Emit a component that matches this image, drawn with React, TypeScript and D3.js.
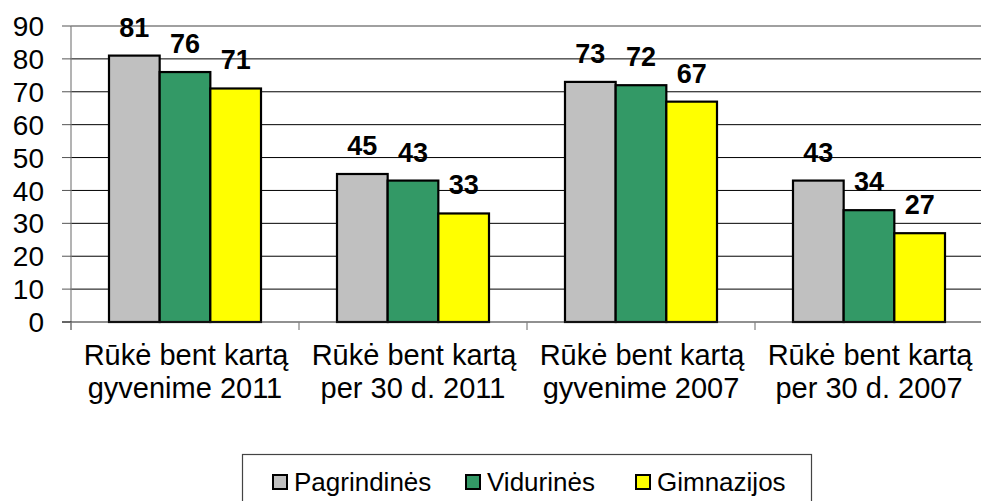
import * as d3 from 'd3';

const categories = [
  ['Rūkė bent kartą', 'gyvenime 2011'],
  ['Rūkė bent kartą', 'per 30 d. 2011'],
  ['Rūkė bent kartą', 'gyvenime 2007'],
  ['Rūkė bent kartą', 'per 30 d. 2007'],
];
const seriesNames = ['Pagrindinės', 'Vidurinės', 'Gimnazijos'];
const pagrindines = [81, 45, 73, 43];
const vidurines = [76, 43, 72, 34];
const gimnazijos = [71, 33, 67, 27];
const yTicks = [0, 10, 20, 30, 40, 50, 60, 70, 80, 90];

const seriesValues = [pagrindines, vidurines, gimnazijos];
const colors = ['#C0C0C0', '#339966', '#FFFF00'];

const width = 981;
const height = 501;
const left = 71;
const top = 26;
const bottom = 322;
const right = 983;
const font = '"Liberation Sans", Arial, sans-serif';

function App() {
  const keys = categories.map((_, i) => String(i));
  const x0 = d3.scaleBand<string>().domain(keys).range([left, right]).padding(0);
  const x1 = d3
    .scaleBand<string>()
    .domain(seriesNames)
    .range([0, x0.bandwidth()])
    .paddingInner(0)
    .paddingOuter(0.75);
  const y = d3.scaleLinear().domain([0, 90]).range([bottom, top]);

  // legend layout (left edge of each square)
  const legendX = [273, 466, 636];

  return (
    <div style={{ position: 'fixed', left: 0, top: 0 }}>
      <svg width={width} height={height} style={{ display: 'block', background: '#fff' }}>
        {/* gridlines */}
        {yTicks
          .filter((t) => t > 0)
          .map((t) => (
            <line
              key={'g' + t}
              x1={left}
              x2={width}
              y1={y(t)}
              y2={y(t)}
              stroke={t === 90 ? '#808080' : '#000'}
              strokeWidth={t === 90 ? 1.5 : 1}
            />
          ))}

        {/* y axis */}
        <line x1={left} x2={left} y1={top} y2={bottom + 8} stroke="#808080" strokeWidth={1.2} />
        {yTicks.map((t) => (
          <g key={'t' + t}>
            <line x1={left - 9} x2={left} y1={y(t)} y2={y(t)} stroke="#555" strokeWidth={1} />
            <text
              x={44}
              y={y(t)}
              dy="0.36em"
              textAnchor="end"
              fontFamily={font}
              fontSize={28}
              fill="#000"
            >
              {t}
            </text>
          </g>
        ))}

        {/* bars */}
        {keys.map((k, ci) =>
          seriesNames.map((s, si) => {
            const v = seriesValues[si][ci];
            const bx = (x0(k) ?? 0) + (x1(s) ?? 0);
            const bw = x1.bandwidth();
            return (
              <g key={k + s}>
                <rect
                  x={bx}
                  y={y(v)}
                  width={bw}
                  height={y(0) - y(v)}
                  fill={colors[si]}
                  stroke="#000"
                  strokeWidth={2.2}
                />
                <text
                  x={bx + bw / 2}
                  y={y(v) - 19}
                  textAnchor="middle"
                  fontFamily={font}
                  fontWeight="bold"
                  fontSize={27}
                  fill="#000"
                >
                  {v}
                </text>
              </g>
            );
          })
        )}

        {/* x axis */}
        <line x1={left - 9} x2={width} y1={bottom} y2={bottom} stroke="#222" strokeWidth={1.2} />
        {keys.map((k) => (
          <line
            key={'xt' + k}
            x1={x0(k)}
            x2={x0(k)}
            y1={bottom}
            y2={bottom + 8}
            stroke="#808080"
            strokeWidth={1.2}
          />
        ))}
        {keys.map((k, ci) => (
          <text
            key={'xl' + k}
            x={(x0(k) ?? 0) + x0.bandwidth() / 2}
            y={365}
            textAnchor="middle"
            fontFamily={font}
            fontSize={29}
            fill="#000"
          >
            <tspan x={(x0(k) ?? 0) + x0.bandwidth() / 2 + 1}>{categories[ci][0]}</tspan>
            <tspan x={(x0(k) ?? 0) + x0.bandwidth() / 2} dy={33}>
              {categories[ci][1]}
            </tspan>
          </text>
        ))}

        {/* legend */}
        <rect x={242.5} y={454.5} width={569} height={60} fill="#fff" stroke="#444" strokeWidth={1.2} />
        {seriesNames.map((s, si) => (
          <g key={'lg' + s}>
            <rect
              x={legendX[si]}
              y={475}
              width={14}
              height={14}
              fill={colors[si]}
              stroke="#000"
              strokeWidth={2}
            />
            <text x={legendX[si] + 21} y={491} fontFamily={font} fontSize={26} fill="#000">
              {s}
            </text>
          </g>
        ))}
      </svg>
    </div>
  );
}

export default App;
